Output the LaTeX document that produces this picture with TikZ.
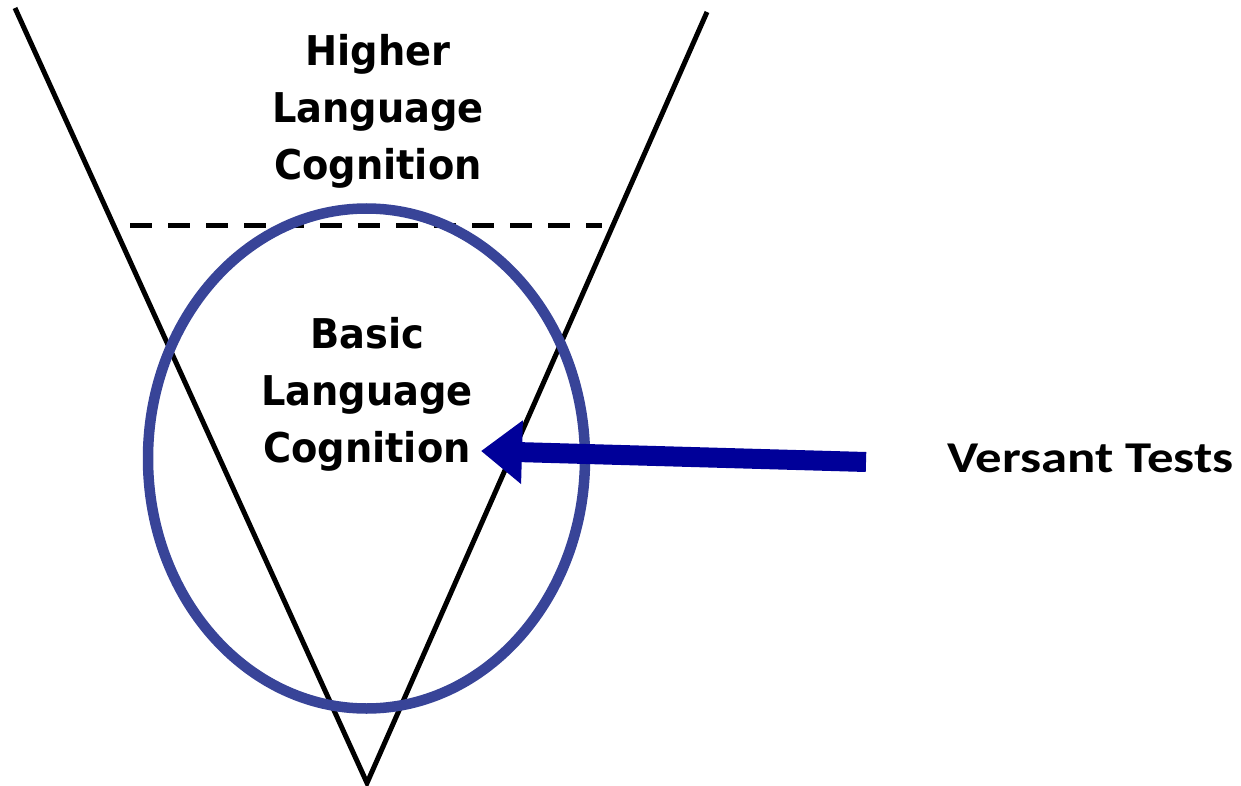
\documentclass[tikz,border=0pt]{standalone}
\usepackage{fontspec}
\usepackage{graphicx}
\setmainfont{DejaVu Sans Condensed}
\newfontfamily\calfont{Carlito}
\usetikzlibrary{arrows.meta}
\definecolor{ellblue}{RGB}{56,68,152}
\definecolor{arrblue}{RGB}{0,0,153}
\newcommand{\widetext}[1]{\scalebox{1.04}[1]{#1}}
\newcommand{\widecal}[1]{\scalebox{1.2}[1]{#1}}
\tikzset{
  vline/.style={line width=5pt, black},
  sepline/.style={line width=5pt, black, dash pattern=on 22pt off 16pt},
  ring/.style={line width=10.5pt, ellblue},
  bigarrow/.style={line width=20pt, arrblue, -{Triangle[length=41pt,width=61pt]}},
  levellabel/.style={align=center, inner sep=0pt, font=\bfseries\fontsize{41}{57}\selectfont},
  sidelabel/.style={inner sep=0pt, font=\calfont\bfseries\fontsize{44}{50}\selectfont}
}
\begin{document}
\begin{tikzpicture}[x=1pt,y=-1pt]
\useasboundingbox (0,0) rectangle (1241,786);
% funnel
\coordinate (ltop) at (15,8);
\coordinate (rtop) at (707,12);
\coordinate (apex) at (367,783);
\draw[vline] (ltop) -- (apex) -- (rtop);
% dashed separator
\coordinate (dl) at (130,226);
\coordinate (dr) at (602,226);
\draw[sepline] (dl) -- (dr);
% ellipse
\coordinate (ec) at (366.5,458.5);
\draw[ring] (ec) ellipse [x radius=218.5pt, y radius=250pt];
% labels
\node[levellabel] (higher) at (378,111) {\widetext{Higher}\\\widetext{Language}\\\widetext{Cognition}};
\node[levellabel] (basic) at (367,394) {\widetext{Basic}\\\widetext{Language}\\\widetext{Cognition}};
\node[sidelabel, anchor=base west] (versant) at (947,472) {\widecal{Versant Tests}};
% arrow
\coordinate (atail) at (866,462);
\coordinate (atip) at (481,451);
\draw[bigarrow] (atail) -- (atip);
\end{tikzpicture}
\end{document}
